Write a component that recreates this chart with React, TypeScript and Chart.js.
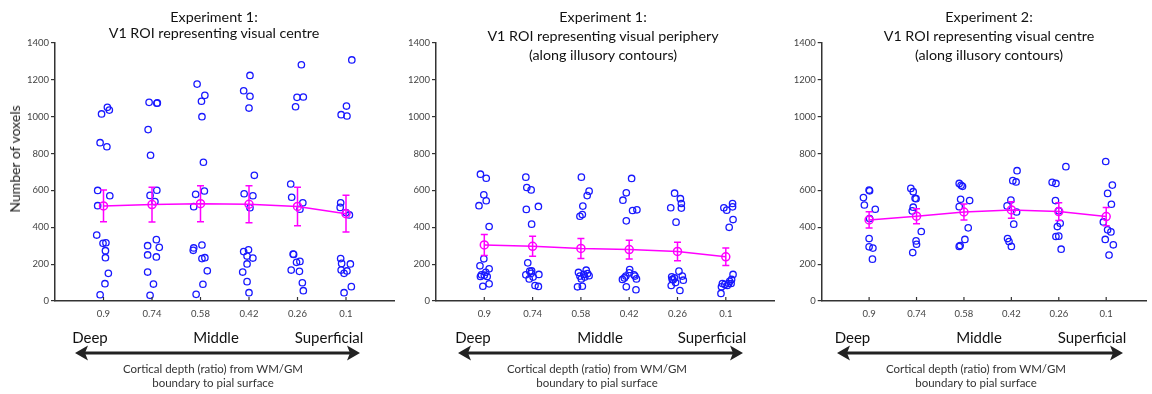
import React, { useEffect, useRef } from 'react';
import { Chart, registerables } from 'chart.js';

Chart.register(...registerables);

// ---------------- DATA ----------------
const depthLabels = ['0.9', '0.74', '0.58', '0.42', '0.26', '0.1'];
const yMin = 0;
const yMax = 1400;
const yStep = 200;

// Experiment 1, V1 ROI representing visual centre (per depth: subject values / x jitter in % of category spacing)
const exp1CentreValues: number[][] = [
  [1015, 1051, 1036, 859, 837, 600, 571, 517, 358, 313, 316, 273, 235, 150, 94, 34],
  [1078, 1073, 1075, 930, 791, 573, 601, 539, 300, 333, 291, 250, 239, 157, 92, 31],
  [1177, 1116, 1084, 1000, 753, 579, 597, 512, 288, 275, 304, 230, 235, 164, 91, 36],
  [1141, 1111, 1224, 1047, 682, 582, 571, 506, 268, 278, 244, 233, 201, 157, 105, 45],
  [1282, 1105, 1107, 1054, 635, 563, 533, 498, 255, 253, 210, 215, 168, 161, 99, 56],
  [1308, 1058, 1011, 1004, 533, 508, 467, 480, 230, 204, 201, 168, 163, 150, 78, 45],
];
const exp1CentreJitter: number[][] = [
  [-4, 8, 12, -7, 7, -12, 13, -12, -14, -1, 5, 4, 4, 10, 3, -7],
  [-6, 10, 11, -8, -3, -4, 10, 6, -9, 9, 15, -9, 9, -9, 3, -4],
  [-7, 9, 2, 3, 6, -10, 8, -14, -14, -15, 3, 3, 9, 14, 5, -9],
  [-11, 2, 2, 0, 11, -10, 8, 2, -11, -1, -4, 8, -4, -13, -4, 0],
  [8, -1, 12, -4, -14, -12, 11, 5, -9, -8, -2, 5, -13, 4, 10, 12],
  [12, 1, -10, 2, -11, -12, 7, 0, -11, -9, 9, -10, 2, -4, 11, -4],
];
const exp1CentreMeans = [516, 523, 528, 525, 513, 474];
const exp1CentreErrors = [86, 94, 98, 100, 104, 100];

// Experiment 1, V1 ROI representing visual periphery
const exp1PeripheryValues: number[][] = [
  [688, 666, 576, 544, 517, 404, 229, 191, 175, 156, 142, 133, 133, 140, 80, 93],
  [672, 616, 603, 497, 513, 417, 207, 142, 162, 163, 120, 144, 84, 79, 150, 130],
  [672, 596, 572, 515, 469, 460, 167, 144, 135, 120, 137, 149, 77, 80, 130, 155],
  [665, 587, 547, 435, 491, 495, 171, 153, 135, 117, 135, 120, 142, 77, 61, 125],
  [585, 555, 529, 504, 506, 428, 162, 131, 115, 84, 135, 113, 57, 118, 125, 100],
  [506, 493, 529, 511, 442, 400, 41, 77, 95, 90, 95, 84, 117, 107, 144, 95],
];
const exp1PeripheryJitter: number[][] = [
  [-8, 4, -1, 4, -11, 10, -1, -9, 10, 3, -6, -8, 6, 0, -3, 10],
  [-14, -12, -3, -13, 12, -2, -10, -14, -6, -2, -7, 13, 5, 12, -3, 1],
  [1, 17, 13, 4, 3, -2, 11, 6, -2, 1, 17, 14, -7, 3, 8, -5],
  [5, -6, -13, -6, 7, 16, 1, 0, -7, -14, 12, 15, 10, -6, 14, -10],
  [-6, 6, 8, 8, -14, -3, 3, -12, -9, -13, 10, 12, 5, -11, -6, -4],
  [-4, 2, 14, 14, 15, 7, -10, -9, -7, -2, 6, 3, 12, 8, 15, 11],
];
const exp1PeripheryMeans = [304, 297, 285, 279, 269, 240];
const exp1PeripheryErrors = [57, 54, 54, 51, 50, 47];

// Experiment 2, V1 ROI representing visual centre
const exp2CentreValues: number[][] = [
  [602, 598, 561, 521, 498, 447, 339, 294, 287, 227],
  [611, 593, 557, 555, 509, 489, 377, 326, 308, 263],
  [638, 628, 622, 552, 545, 512, 397, 334, 296, 301],
  [707, 653, 646, 548, 516, 483, 417, 339, 323, 296],
  [729, 644, 638, 545, 490, 422, 404, 350, 352, 281],
  [757, 629, 584, 525, 429, 386, 375, 334, 305, 249],
];
const exp2CentreJitter: number[][] = [
  [0, 1, -12, -10, 13, 1, 0, 0, 8, 7],
  [-12, -7, -3, -1, -7, -9, 10, -1, 0, -8],
  [-10, -6, -3, -7, 12, -10, 9, 2, -10, -8],
  [12, 3, 10, -1, -9, 11, 5, -8, -5, 0],
  [15, -14, -6, -7, 0, 3, -3, -6, 0, 5],
  [-1, 13, 3, 11, -6, 3, 10, -2, 15, 6],
];
const exp2CentreMeans = [440, 460, 483, 494, 485, 458];
const exp2CentreErrors = [44, 41, 43, 45, 48, 50];

const panelTitles: string[][] = [
  ['Experiment 1:', 'V1 ROI representing visual centre'],
  ['Experiment 1:', 'V1 ROI representing visual periphery', '(along illusory contours)'],
  ['Experiment 2:', 'V1 ROI representing visual centre', '(along illusory contours)'],
];
const yAxisTitle = 'Number of voxels';
const depthWords = ['Deep', 'Middle', 'Superficial'];
const xAxisTitle = ['Cortical depth (ratio) from WM/GM', 'boundary to pial surface'];

// ---------------- STYLE / LAYOUT ----------------
const W = 1152;
const H = 394;
const FONT = 'Lato, "Open Sans", sans-serif';
const BLUE = 'rgb(25,25,255)';
const MAGENTA = '#ff00ff';
const AXIS = '#333333';
const PLOT_TOP = 43;
const PLOT_BOTTOM = 301;

type PanelLayout = {
  left: number;
  width: number;
  axisX: number;
  unit: number;
  xMax: number;
  titleX: number;
  titleYs: number[];
  deepX: number;
  middleX: number;
  superX: number;
  arrowX1: number;
  arrowX2: number;
  axisTitleX: number;
};

const layouts: PanelLayout[] = [
  { left: 0, width: 400, axisX: 55, unit: 48.5, xMax: 7, titleX: 214, titleYs: [17, 33], deepX: 90, middleX: 216, superX: 329, arrowX1: 75, arrowX2: 360, axisTitleX: 213 },
  { left: 400, width: 380, axisX: 436, unit: 48.3, xMax: 7, titleX: 603, titleYs: [17, 36, 54.5], deepX: 473, middleX: 600, superX: 712, arrowX1: 458, arrowX2: 743, axisTitleX: 597 },
  { left: 780, width: 372, axisX: 821.7, unit: 48.25, xMax: 6.85, titleX: 989, titleYs: [17, 36, 54.5], deepX: 852.5, middleX: 979, superX: 1092, arrowX1: 837, arrowX2: 1123, axisTitleX: 976 },
];

type PanelData = { values: number[][]; jitter: number[][]; means: number[]; errors: number[] };
const panelData: PanelData[] = [
  { values: exp1CentreValues, jitter: exp1CentreJitter, means: exp1CentreMeans, errors: exp1CentreErrors },
  { values: exp1PeripheryValues, jitter: exp1PeripheryJitter, means: exp1PeripheryMeans, errors: exp1PeripheryErrors },
  { values: exp2CentreValues, jitter: exp2CentreJitter, means: exp2CentreMeans, errors: exp2CentreErrors },
];

function PanelChart({ layout, data }: { layout: PanelLayout; data: PanelData }) {
  const ref = useRef<HTMLCanvasElement>(null);
  useEffect(() => {
    const canvas = ref.current;
    if (!canvas) return;
    const points: { x: number; y: number }[] = [];
    data.values.forEach((col, i) => {
      col.forEach((v, k) => points.push({ x: i + 1 + data.jitter[i][k] / 100, y: v }));
    });
    const meanPts = data.means.map((m, i) => ({ x: i + 1, y: m }));
    const rightPad = layout.width - (layout.axisX - layout.left + layout.unit * layout.xMax);

    const decorations = {
      id: 'decorations',
      afterDatasetsDraw(chart: any) {
        const ctx = chart.ctx;
        const xs = chart.scales.x;
        const ys = chart.scales.y;
        ctx.save();
        // inward x tick marks
        ctx.strokeStyle = AXIS;
        ctx.lineWidth = 1.2;
        depthLabels.forEach((_, i) => {
          const px = xs.getPixelForValue(i + 1);
          ctx.beginPath();
          ctx.moveTo(px, ys.bottom);
          ctx.lineTo(px, ys.bottom - 4);
          ctx.stroke();
        });
        // error bars
        ctx.strokeStyle = MAGENTA;
        ctx.lineWidth = 1.5;
        data.means.forEach((m, i) => {
          const px = xs.getPixelForValue(i + 1);
          const t = ys.getPixelForValue(m + data.errors[i]);
          const b = ys.getPixelForValue(m - data.errors[i]);
          ctx.beginPath();
          ctx.moveTo(px, t);
          ctx.lineTo(px, b);
          ctx.moveTo(px - 3.5, t);
          ctx.lineTo(px + 3.5, t);
          ctx.moveTo(px - 3.5, b);
          ctx.lineTo(px + 3.5, b);
          ctx.stroke();
        });
        ctx.restore();
      },
    };

    const chart = new Chart(canvas, {
      type: 'scatter',
      data: {
        datasets: [
          {
            data: meanPts,
            showLine: true,
            borderColor: MAGENTA,
            borderWidth: 1.5,
            pointRadius: 4,
            pointBorderColor: MAGENTA,
            pointBackgroundColor: 'rgba(0,0,0,0)',
            pointBorderWidth: 1.5,
            tension: 0,
          } as any,
          {
            data: points,
            borderColor: BLUE,
            backgroundColor: 'rgba(0,0,0,0)',
            pointRadius: 3.2,
            pointBorderWidth: 1.3,
            showLine: false,
          } as any,
        ],
      },
      options: {
        animation: false,
        responsive: false,
        devicePixelRatio: 1,
        layout: { padding: { top: PLOT_TOP, left: 0, bottom: 0, right: rightPad } },
        plugins: { legend: { display: false }, tooltip: { enabled: false }, title: { display: false } },
        events: [],
        scales: {
          x: {
            type: 'linear',
            min: 0,
            max: layout.xMax,
            afterBuildTicks: (s: any) => {
              s.ticks = depthLabels.map((_, i) => ({ value: i + 1 }));
            },
            afterFit: (s: any) => {
              s.height = H - PLOT_BOTTOM;
            },
            ticks: {
              autoSkip: false,
              maxRotation: 0,
              padding: 7,
              color: '#444',
              font: { family: FONT, size: 9.5 },
              callback: (v: any) => depthLabels[Math.round(Number(v)) - 1] ?? '',
            },
            grid: { display: false, drawTicks: false },
            border: { display: true, color: AXIS, width: 1.5 },
          },
          y: {
            type: 'linear',
            min: yMin,
            max: yMax,
            afterFit: (s: any) => {
              s.width = layout.axisX - layout.left;
            },
            ticks: {
              stepSize: yStep,
              padding: 2,
              color: '#444',
              font: { family: FONT, size: 9.5 },
              callback: (v: any) => String(v),
            },
            grid: { drawOnChartArea: false, drawTicks: true, tickLength: 4, color: AXIS, lineWidth: 1.2 },
            border: { display: true, color: AXIS, width: 1.5 },
          },
        },
      } as any,
      plugins: [decorations],
    });
    return () => chart.destroy();
  }, [layout, data]);
  return (
    <canvas
      ref={ref}
      width={layout.width}
      height={H}
      style={{ position: 'absolute', left: layout.left, top: 0, width: layout.width, height: H }}
    />
  );
}

function Text({ x, y, children, size, color, rotate }: { x: number; y: number; children: React.ReactNode; size: number; color: string; rotate?: number }) {
  return (
    <div
      style={{
        position: 'absolute',
        left: x,
        top: y,
        transform: `translate(-50%, -50%)${rotate ? ` rotate(${rotate}deg)` : ''}`,
        whiteSpace: 'nowrap',
        fontFamily: FONT,
        fontSize: size,
        lineHeight: 1,
        color,
      }}
    >
      {children}
    </div>
  );
}

export default function App() {
  return (
    <div style={{ position: 'fixed', left: 0, top: 0, width: W, height: H, background: '#fff', overflow: 'hidden' }}>
      {layouts.map((l, i) => (
        <PanelChart key={i} layout={l} data={panelData[i]} />
      ))}
      {layouts.map((l, i) =>
        panelTitles[i].map((line, j) => (
          <Text key={`t${i}-${j}`} x={l.titleX} y={l.titleYs[j]} size={14.3} color="#111">
            {line}
          </Text>
        ))
      )}
      <Text x={15} y={159} size={14} color="#222" rotate={-90}>
        {yAxisTitle}
      </Text>
      {layouts.map((l, i) => (
        <React.Fragment key={`b${i}`}>
          <Text x={l.deepX} y={337} size={15} color="#111">{depthWords[0]}</Text>
          <Text x={l.middleX} y={337} size={15} color="#111">{depthWords[1]}</Text>
          <Text x={l.superX} y={337} size={15} color="#111">{depthWords[2]}</Text>
          <Text x={l.axisTitleX} y={369} size={11.5} color="#333">{xAxisTitle[0]}</Text>
          <Text x={l.axisTitleX} y={382.5} size={11.5} color="#333">{xAxisTitle[1]}</Text>
        </React.Fragment>
      ))}
      <svg width={W} height={H} style={{ position: 'absolute', left: 0, top: 0, pointerEvents: 'none' }}>
        {layouts.map((l, i) => {
          const y = 353;
          const a = l.arrowX1;
          const b = l.arrowX2;
          return (
            <g key={`a${i}`} fill="#222" stroke="none">
              <rect x={a + 8} y={y - 1.5} width={b - a - 16} height={3} />
              <polygon points={`${a},${y} ${a + 13},${y - 7.5} ${a + 10},${y} ${a + 13},${y + 7.5}`} />
              <polygon points={`${b},${y} ${b - 13},${y - 7.5} ${b - 10},${y} ${b - 13},${y + 7.5}`} />
            </g>
          );
        })}
      </svg>
    </div>
  );
}
